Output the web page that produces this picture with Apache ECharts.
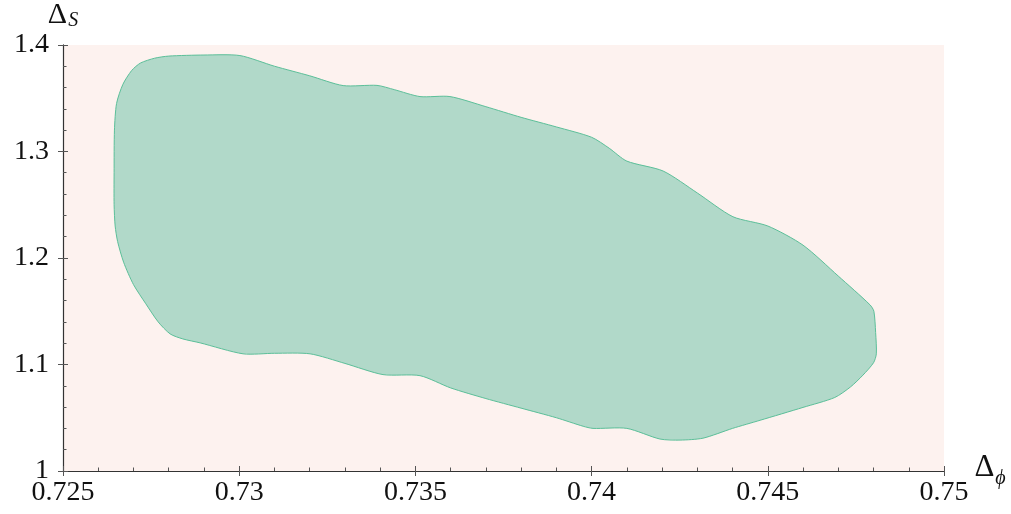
<!DOCTYPE html>
<html>
<head>
<meta charset="utf-8">
<script src="https://cdn.jsdelivr.net/npm/echarts@6/dist/echarts.min.js"></script>
<style>
html,body{margin:0;padding:0;background:#fff;}
#c{width:1011px;height:514px;}
</style>
</head>
<body>
<div id="c"></div>
<script>
// Region outline (clockwise from left edge)
var phiValues = [
  0.72645, 0.72646, 0.72652, 0.72670, 0.72695, 0.72720, 0.72760, 0.72800, 0.72900, 0.73002,
  0.73100, 0.73200, 0.73295, 0.73391, 0.73440, 0.73513, 0.73598,
  0.73700, 0.73800, 0.73900, 0.74000, 0.74050, 0.74100, 0.74203,
  0.74300, 0.74401, 0.74500, 0.74600, 0.74700, 0.74790, 0.74801, 0.74806, 0.74808,
  0.74800, 0.74770, 0.74735, 0.74690, 0.74600, 0.74478, 0.74400, 0.74316,
  0.74251, 0.74194, 0.74100, 0.74004, 0.73976, 0.73900, 0.73800,
  0.73700, 0.73600, 0.73513, 0.73408, 0.73300, 0.73201, 0.73100,
  0.73011, 0.72889, 0.72840, 0.72804, 0.72770, 0.72735, 0.72700, 0.72672, 0.72655, 0.72648, 0.72645
];
var sValues = [
  1.2800, 1.3200, 1.3450, 1.3630, 1.3760, 1.3830, 1.3875, 1.3895, 1.3905, 1.3900,
  1.3800, 1.3710, 1.3618, 1.3620, 1.3580, 1.3515, 1.3515,
  1.3420, 1.3320, 1.3230, 1.3133, 1.3030, 1.2909, 1.2816,
  1.2610, 1.2387, 1.2300, 1.2120, 1.1830, 1.1560, 1.1500, 1.1300, 1.1100,
  1.1016, 1.0900, 1.0790, 1.0690, 1.0597, 1.0476, 1.0400, 1.0308,
  1.0290, 1.0300, 1.0400, 1.0400, 1.0420, 1.0500, 1.0590,
  1.0680, 1.0780, 1.0895, 1.0905, 1.1010, 1.1100, 1.1105,
  1.1100, 1.1203, 1.1240, 1.1287, 1.1400, 1.1570, 1.1750, 1.1960, 1.2154, 1.2300, 1.2500
];
var xTicks = [0.725, 0.73, 0.735, 0.74, 0.745, 0.75];
var yTicks = [1, 1.1, 1.2, 1.3, 1.4];

var chart = echarts.init(document.getElementById('c'));
var font = '"Liberation Serif", "DejaVu Serif", serif';
var labelFmt = function (v) { return String(+v.toFixed(4)); };

function axisCommon(min, max, interval) {
  return { type: 'value', min: min, max: max, interval: interval, splitLine: { show: false } };
}

chart.setOption({
  animation: false,
  grid: { left: 63, right: 67, top: 41, bottom: 43, show: true, backgroundColor: '#fdf2ef', borderWidth: 0 },
  xAxis: [
    Object.assign(axisCommon(xTicks[0], xTicks[xTicks.length - 1], 0.005), {
      position: 'bottom',
      axisLine: { lineStyle: { color: '#333', width: 1.2 } },
      axisTick: { inside: true, length: 5, lineStyle: { color: '#555' } },
      minorTick: { show: true, splitNumber: 5, length: 3.5, lineStyle: { color: '#555' } },
      axisLabel: { color: '#111', fontFamily: font, fontSize: 28, margin: 8, formatter: labelFmt },
      name: '{d|Δ}{s|ϕ}', nameLocation: 'end', nameGap: 22,
      nameTextStyle: { rich: { d: { fontFamily: font, fontSize: 31, color: '#111', padding: [0,0,6,0] }, s: { fontFamily: font, fontStyle: 'italic', fontSize: 20, color: '#111', padding: [16,0,0,1] } } }
    }),
    Object.assign(axisCommon(xTicks[0], xTicks[xTicks.length - 1], 0.005), {
      position: 'bottom',
      axisLine: { show: false },
      axisTick: { inside: false, length: 5, lineStyle: { color: '#555' } },
      axisLabel: { show: false }
    })
  ],
  yAxis: [
    Object.assign(axisCommon(yTicks[0], yTicks[yTicks.length - 1], 0.1), {
      position: 'left',
      axisLine: { show: true, lineStyle: { color: '#333', width: 1.2 } },
      axisTick: { show: true, inside: true, length: 5, lineStyle: { color: '#555' } },
      minorTick: { show: true, splitNumber: 5, length: 3.5, lineStyle: { color: '#555' } },
      axisLabel: { color: '#111', fontFamily: font, fontSize: 28, margin: 14, formatter: labelFmt },
      name: '{d|Δ}{s|S}', nameLocation: 'end', nameGap: 8,
      nameTextStyle: { align: 'center', padding: [0, 0, 0, 0], rich: { d: { fontFamily: font, fontSize: 30, color: '#111' }, s: { fontFamily: font, fontStyle: 'italic', fontSize: 20, color: '#111', padding: [12,0,0,1] } } }
    }),
    Object.assign(axisCommon(yTicks[0], yTicks[yTicks.length - 1], 0.1), {
      position: 'left',
      axisLine: { show: false },
      axisTick: { show: true, inside: false, length: 5, lineStyle: { color: '#555' } },
      axisLabel: { show: false }
    })
  ],
  series: [{
    type: 'custom',
    xAxisIndex: 0,
    yAxisIndex: 0,
    data: phiValues.map(function (p, i) { return [p, sValues[i]]; }),
    renderItem: function (params, api) {
      if (params.dataIndex !== 0) return null;
      var pts = phiValues.map(function (p, i) { return api.coord([p, sValues[i]]); });
      return {
        type: 'polygon',
        shape: { points: pts, smooth: 0.25 },
        style: { fill: '#b1d9c9', stroke: '#5cbf99', lineWidth: 1 }
      };
    },
    z: 1
  }]
});
</script>
</body>
</html>
